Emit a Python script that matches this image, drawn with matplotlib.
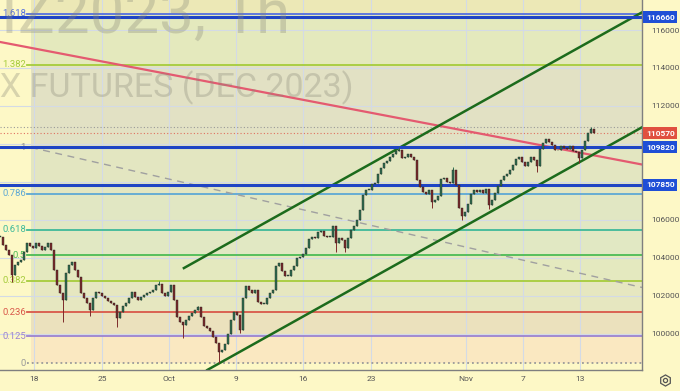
import numpy as np
import matplotlib.pyplot as plt

plt.rcParams['font.family'] = ['Roboto', 'DejaVu Sans']

# hourly closes (RTS futures, Sep 18 - Nov 13)
closes = [
    105110, 104680, 104420, 104160, 103110, 103630, 103790, 103890, 104320, 104790,
    104630, 104530, 104790, 104630, 104420, 104580, 104790, 104420, 103370, 102580,
    102160, 101790, 103210, 103630, 103790, 103370, 103000, 102160, 101890, 101630,
    101260, 101890, 102210, 102160, 102000, 101890, 101740, 101630, 101530, 100840,
    101160, 101470, 101630, 101890, 102210, 101950, 101790, 101950, 102050, 102160,
    102210, 102320, 102580, 102630, 102160, 102000, 102210, 102580, 101790, 100890,
    100630, 100470, 100740, 100950, 101110, 101260, 101420, 100890, 100420, 100320,
    100160, 99840, 99530, 99050, 99160, 99470, 100000, 100740, 101160, 101000,
    100210, 101890, 102530, 102320, 102160, 102320, 101680, 101580, 101580, 101890,
    102160, 102320, 103580, 103740, 103320, 103050, 103050, 103370, 103580, 104000,
    104050, 104210, 104530, 105000, 105110, 105050, 105370, 105420, 105160, 105110,
    105110, 105680, 104790, 105050, 104950, 104530, 105050, 105470, 105680, 106000,
    106530, 107320, 107580, 107580, 107890, 107950, 108420, 108740, 109000, 109100,
    109320, 109470, 109630, 109680, 109260, 109320, 109470, 109320, 109160, 108100,
    107740, 107470, 107370, 107580, 106950, 107050, 107260, 108160, 108210, 108000,
    107950, 108630, 107840, 106630, 106210, 106420, 106840, 107370, 107580, 107470,
    107580, 107420, 107630, 106790, 107050, 107420, 107790, 108100, 108320, 108420,
    108630, 108890, 109210, 109320, 109050, 108840, 109050, 109320, 109160, 108840,
    109740, 110050, 110260, 110100, 109950, 109680, 109680, 109890, 109790, 109740,
    109890, 109630, 109580, 109260, 109680, 110160, 110580, 110790, 110570,
]
# long shadows (bar index -> price)
wick_lows = {4: 102740, 21: 100630, 30: 100950, 39: 100370, 61: 99790, 73: 98450,
             80: 100050, 112: 104320, 115: 104320, 144: 106630, 154: 106000,
             163: 106580, 179: 108530, 193: 109000}
wick_highs = {53: 102790, 66: 101470, 133: 109820, 151: 108790, 197: 110890}

date_labels = ['18', '25', 'Oct', '9', '16', '23', 'Nov', '7', '13']
date_pos = [11.3, 34, 56.3, 78.7, 101, 123.7, 155.3, 174.3, 193.3]

# price scale labels (110000 and 108000 sit under the tags)
scale_ticks = [100000, 102000, 104000, 106000, 112000, 114000, 116000]

# fibonacci retracement
fib_low, fib_high = 98450, 109820
fib_start = 10.3
fib_levels = [0, 0.125, 0.236, 0.382, 0.5, 0.618, 0.786, 1, 1.382, 1.618]
fib_names = ['0', '0.125', '0.236', '0.382', '0.5', '0.618', '0.786', '1', '1.382', '1.618']
fib_colors = ['#9a9a9a', '#9b82d2', '#d9584a', '#a6cc3c', '#4cbb55', '#3fb99a',
              '#5ea8d4', '#8c8c8c', '#a6cc3c', '#5570e0']
zone_colors = ['#fae8c1', '#ebe1bd', '#e6e7c0', '#e4e9bf', '#e1e8c3', '#e1e7c3',
               '#e3e6c1', '#e2e1c4', '#e4e9bd', '#ece8b6']

h_levels = [116660, 109820, 107850]
last_price = 110570
session_high = 110890

red_line = [(0, 115370), (214, 108920)]
dash_line = [(10.3, 109820), (214, 102450)]
chan_upper = [(61.3, 103470), (214, 116930)]
chan_lower = [(73, 98450), (214, 110880)]

bg = '#fdf8c6'
fig = plt.figure(figsize=(6.8, 3.91), dpi=100, facecolor=bg)
ax = fig.add_axes([0, 21 / 391, 642 / 680, 370 / 391], facecolor=bg)
ax.set_xlim(0, 214)
ax.set_ylim(98105, 117579)

# fib zones and lines
prices = [fib_low + lv * (fib_high - fib_low) for lv in fib_levels]
bounds = prices + [118000]
for i, c in enumerate(zone_colors):
    ax.fill_between([fib_start, 214], bounds[i], bounds[i + 1], color=c, lw=0, zorder=0.1)
for p, name, c in zip(prices, fib_names, fib_colors):
    ls = ':' if name == '0' else '-'
    ax.plot([fib_start - 1.2, 214], [p, p], color=c, lw=1.3, ls=ls, zorder=1)
    ax.text(fib_start - 1.6, p, name, color=c, fontsize=6.8, ha='right', va='center', zorder=1)

# grid
for t in range(98000, 118001, 2000):
    ax.axhline(t, color='#d3dae6', lw=0.8, zorder=0.5)
for d in date_pos:
    ax.axvline(d, color='#d3dae6', lw=0.8, zorder=0.5)

# watermark
wm = dict(color='#8a8a7a', alpha=0.33, ha='right', va='baseline', zorder=0.6)
fig.text(290 / 680, 1 - 33 / 391, 'RIZ2023, 1h', fontsize=44.5, **wm)
fig.text(353 / 680, 1 - 97 / 391, 'RTS INDEX FUTURES (DEC 2023)', fontsize=24.5, **wm)

# dotted price lines
ax.axhline(session_high, color='#999999', lw=0.8, ls=(0, (1, 2)), zorder=1.5)
ax.axhline(last_price, color='#e07060', lw=0.8, ls=(0, (1, 2)), zorder=1.5)

# trend lines
ax.axline(red_line[0], red_line[1], color='#e45a70', lw=1.6, zorder=2)
ax.plot(*zip(*dash_line), color='#a0a0a0', lw=1.0, ls=(0, (5, 4)), zorder=2)
ax.plot(*zip(*chan_upper), color='#1c6b1c', lw=1.8, zorder=2)
ax.axline(chan_lower[0], chan_lower[1], color='#1c6b1c', lw=1.8, zorder=2)

for lv in h_levels:
    ax.axhline(lv, color='#1f44c4', lw=2.2, zorder=2.5)

# candles
c = np.array(closes, dtype=float)
o = np.r_[c[0], c[:-1]]
x = np.arange(len(c))
hi = np.maximum(o, c)
lo = np.minimum(o, c)
for k, v in wick_highs.items():
    hi[k] = v
for k, v in wick_lows.items():
    lo[k] = v
up = c >= o
cols = np.where(up, '#2f6f50', '#7d2a2a')
ax.vlines(x, lo, hi, colors=cols, lw=0.7, zorder=3)
body = np.where(np.abs(c - o) < 30, 30, c - o)
ax.bar(x, body, bottom=o, width=0.55, color=cols, edgecolor='#222222', lw=0.3, zorder=3.1)

# axes styling
for s in ['top', 'left']:
    ax.spines[s].set_visible(False)
for s in ['right', 'bottom']:
    ax.spines[s].set_color('#7f7f7f')
    ax.spines[s].set_linewidth(1.0)
ax.yaxis.tick_right()
ax.set_yticks(scale_ticks)
ax.set_yticklabels([str(t) for t in scale_ticks])
ax.tick_params(axis='y', length=0, pad=7, labelsize=6, labelcolor='#555555')
ax.set_xticks(date_pos)
ax.set_xticklabels(date_labels)
ax.tick_params(axis='x', length=0, pad=4, labelsize=6, labelcolor='#555555')

# price tags on the scale
tags = [(116660, '#1f4fd6'), (109820, '#1f4fd6'), (107850, '#1f4fd6'), (last_price, '#e0503f')]
for p, fc in tags:
    ax.text(1.006, p, str(p), transform=ax.get_yaxis_transform(), ha='left', va='center',
            fontsize=6, fontweight='bold', color='white', clip_on=False, zorder=10,
            bbox=dict(boxstyle='square,pad=0.3', fc=fc, ec='none'))

# settings icon
fig.lines.append(plt.Line2D([665 / 680], [1 - 380 / 391], transform=fig.transFigure,
                            marker='h', ms=8, mfc='none', mec='#555555', mew=0.9))
fig.lines.append(plt.Line2D([665 / 680], [1 - 380 / 391], transform=fig.transFigure,
                            marker='o', ms=3, mfc='none', mec='#555555', mew=0.9))

fig.savefig('out.png', dpi=100, facecolor=bg)
